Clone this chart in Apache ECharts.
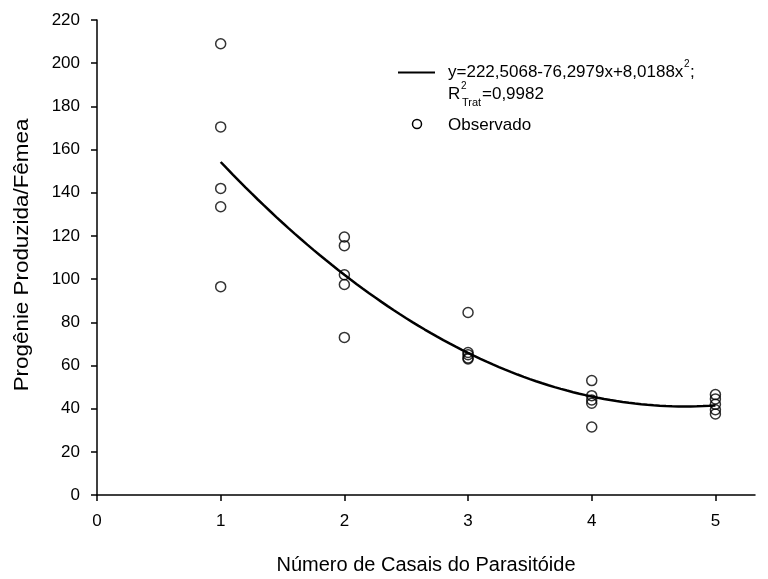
<!DOCTYPE html>
<html>
<head>
<meta charset="utf-8">
<script src="https://cdn.jsdelivr.net/npm/echarts@6/dist/echarts.min.js"></script>
<style>
  html, body { margin: 0; padding: 0; background: #fff; }
  #chart { width: 768px; height: 579px; }
</style>
</head>
<body>
<div id="chart"></div>
<script>
// Number of parasitoid couples (treatment levels)
const casais = [1, 2, 3, 4, 5];
// Observed progeny per female, replicates for each level
const observado1 = [209, 170.5, 142, 133.5, 96.5];
const observado2 = [119.5, 115.5, 102, 97.5, 73];
const observado3 = [84.5, 66, 65, 63.5, 63];
const observado4 = [53, 46, 44, 42.5, 31.5];
const observado5 = [46.5, 44.5, 42, 39.5, 37.5];
// Fitted quadratic: y = b0 + b1*x + b2*x^2
const coeficientes = [222.5068, -76.2979, 8.0188];
const xTicks = [0, 1, 2, 3, 4, 5];

const observados = [observado1, observado2, observado3, observado4, observado5];
const pontos = [];
casais.forEach((x, i) => observados[i].forEach(v => pontos.push([x, v])));

const curva = [];
for (let k = 0; k <= 80; k++) {
  const x = 1 + k * 0.05;
  curva.push([x, coeficientes[0] + coeficientes[1] * x + coeficientes[2] * x * x]);
}

const FONT = '"Liberation Sans", Arial, sans-serif';
const chart = echarts.init(document.getElementById('chart'), null, { renderer: 'canvas' });

chart.setOption({
  backgroundColor: '#fff',
  animation: false,
  grid: { left: 97, top: 20, width: 658, height: 475, containLabel: false, outerBoundsMode: 'none' },
  xAxis: {
    type: 'value', min: 0, max: 5.32, interval: 1,
    name: 'Número de Casais do Parasitóide',
    nameLocation: 'middle', nameGap: 60,
    nameTextStyle: { fontFamily: FONT, fontSize: 20, color: '#000' },
    axisLine: { onZero: false, lineStyle: { color: '#000', width: 1.5 } },
    axisTick: { show: true, length: 6, inside: false, customValues: xTicks, lineStyle: { color: '#000', width: 1.5 } },
    axisLabel: { customValues: xTicks, fontFamily: FONT, fontSize: 17, color: '#000', margin: 18 },
    splitLine: { show: false }
  },
  yAxis: {
    type: 'value', min: 0, max: 220, interval: 20,
    axisLine: { show: true, lineStyle: { color: '#000', width: 1.5 } },
    axisTick: { show: true, length: 6, lineStyle: { color: '#000', width: 1.5 } },
    axisLabel: { fontFamily: FONT, fontSize: 17, color: '#000', margin: 17 },
    splitLine: { show: false }
  },
  series: [
    {
      type: 'line', data: curva, showSymbol: false, smooth: false,
      lineStyle: { color: '#000', width: 2.5 }, z: 2
    },
    {
      type: 'scatter', data: pontos, symbol: 'circle', symbolSize: 10,
      itemStyle: { color: 'rgba(255,255,255,0)', borderColor: '#000', borderWidth: 1.5 }, z: 3
    }
  ],
  graphic: [
    // vertical axis title
    { type: 'text', x: 22, y: 255, rotation: Math.PI / 2, scaleX: 1.12,
      style: { text: 'Progênie Produzida/Fêmea', font: '20px ' + FONT, fill: '#000', align: 'center', verticalAlign: 'middle' } },
    // legend
    { type: 'line', shape: { x1: 398, y1: 72.5, x2: 435, y2: 72.5 }, style: { stroke: '#000', lineWidth: 2 } },
    { type: 'text', x: 448, y: 72, style: { text: 'y=222,5068-76,2979x+8,0188x', font: '17px ' + FONT, fill: '#000', verticalAlign: 'middle' } },
    { type: 'text', x: 684, y: 64, style: { text: '2', font: '10px ' + FONT, fill: '#000', verticalAlign: 'middle' } },
    { type: 'text', x: 690, y: 72, style: { text: ';', font: '17px ' + FONT, fill: '#000', verticalAlign: 'middle' } },
    { type: 'text', x: 448, y: 94, style: { text: 'R', font: '17px ' + FONT, fill: '#000', verticalAlign: 'middle' } },
    { type: 'text', x: 461, y: 86, style: { text: '2', font: '10px ' + FONT, fill: '#000', verticalAlign: 'middle' } },
    { type: 'text', x: 462, y: 103, style: { text: 'Trat', font: '11px ' + FONT, fill: '#000', verticalAlign: 'middle' } },
    { type: 'text', x: 482, y: 94, style: { text: '=0,9982', font: '17px ' + FONT, fill: '#000', verticalAlign: 'middle' } },
    { type: 'circle', shape: { cx: 417, cy: 124, r: 4.5 }, style: { fill: 'none', stroke: '#000', lineWidth: 1.5 } },
    { type: 'text', x: 448, y: 125, style: { text: 'Observado', font: '17px ' + FONT, fill: '#000', verticalAlign: 'middle' } }
  ]
});
</script>
</body>
</html>
